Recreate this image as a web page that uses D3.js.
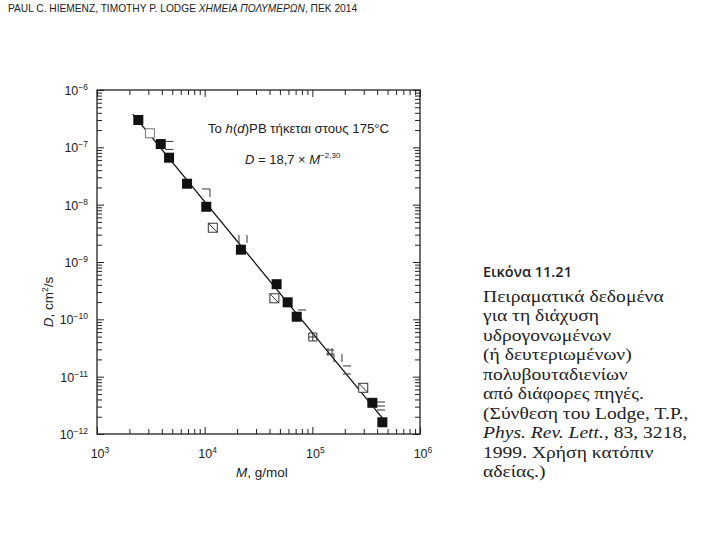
<!DOCTYPE html>
<html>
<head>
<meta charset="utf-8">
<script src="https://cdn.jsdelivr.net/npm/d3@7"></script>
<style>
  body { margin: 0; background: #fff; }
  text { fill: #222; }
</style>
</head>
<body>
<div id="viz"></div>
<script>
// data
var filledM = [2420, 3910, 4670, 6860, 10350, 21700, 46600, 59000, 71600, 361000, 447000];
var filledD = [3.0e-7, 1.14e-7, 6.6e-8, 2.32e-8, 9.2e-9, 1.64e-9, 4.1e-10, 1.98e-10, 1.11e-10, 3.5e-12, 1.6e-12];
var openM = [3100];
var openD = [1.76e-7];
var hatchM = [11900, 44400, 297000];
var hatchD = [3.96e-9, 2.33e-10, 6.4e-12];
var fragM = [4710, 10280, 22700, 80200, 101000, 146000, 173000, 210000, 435000];
var fragD = [1.08e-7, 1.6e-8, 2.52e-9, 1.24e-10, 4.92e-11, 2.69e-11, 2.11e-11, 1.31e-11, 3.08e-12];
var fragKind = ["eq", "corner", "par", "dash", "grid", "hash", "par", "eq", "tri"];
var lineM = [2150, 470000];
var lineD = [3.8e-7, 1.7e-12];
var xTicks = [1e3, 1e4, 1e5, 1e6];
var xExp = ["3", "4", "5", "6"];
var yTicks = [1e-6, 1e-7, 1e-8, 1e-9, 1e-10, 1e-11, 1e-12];
var yExp = ["\u22126", "\u22127", "\u22128", "\u22129", "\u221210", "\u221211", "\u221212"];
var caption = [
  "Πειραματικά δεδομένα",
  "για τη διάχυση",
  "υδρογονωμένων",
  "(ή δευτεριωμένων)",
  "πολυβουταδιενίων",
  "από διάφορες πηγές.",
  "(Σύνθεση του Lodge, T.P.,",
  "",
  "1999. Χρήση κατόπιν",
  "αδείας.)"
];

var W = 720, H = 540;
var plotL = 97, plotR = 420, plotT = 90, plotB = 434;

var svg = d3.select("#viz").append("svg")
  .attr("width", W).attr("height", H)
  .style("font-family", "'Liberation Sans', Arial, sans-serif");

var x = d3.scaleLog().domain([1e3, 1e6]).range([plotL, plotR]);
var y = d3.scaleLog().domain([1e-12, 1e-6]).range([plotB, plotT]);

var minorX = [], minorY = [];
[1e3, 1e4, 1e5].forEach(function(d){ for (var k = 2; k < 10; k++) minorX.push(d * k); });
[1e-12, 1e-11, 1e-10, 1e-9, 1e-8, 1e-7].forEach(function(d){ for (var k = 2; k < 10; k++) minorY.push(d * k); });

// header
var hd = svg.append("text").attr("x", 8).attr("y", 12).style("font-size", "10.2px");
hd.append("tspan").text("PAUL C. HIEMENZ, TIMOTHY P. LODGE ");
hd.append("tspan").style("font-style", "italic").text("ΧΗΜΕΙΑ ΠΟΛΥΜΕΡΩΝ");
hd.append("tspan").text(", ΠΕΚ 2014");

// ticks, all four sides, pointing inward
function drawTicks(axis, tx, ty, vals, len){
  var g = svg.append("g").attr("transform", "translate(" + tx + "," + ty + ")")
    .call(axis.tickValues(vals).tickSize(-len).tickFormat(""));
  g.select(".domain").remove();
  g.selectAll("line").attr("stroke", "#222").attr("stroke-width", 1);
}
drawTicks(d3.axisBottom(x), 0, plotB, minorX, 5);
drawTicks(d3.axisBottom(x), 0, plotB, xTicks, 7);
drawTicks(d3.axisTop(x), 0, plotT, minorX, 5);
drawTicks(d3.axisTop(x), 0, plotT, xTicks, 7);
drawTicks(d3.axisLeft(y), plotL, 0, minorY, 5);
drawTicks(d3.axisLeft(y), plotL, 0, yTicks, 7);
drawTicks(d3.axisRight(y), plotR, 0, minorY, 5);
drawTicks(d3.axisRight(y), plotR, 0, yTicks, 7);

svg.append("rect")
  .attr("x", plotL).attr("y", plotT)
  .attr("width", plotR - plotL).attr("height", plotB - plotT)
  .attr("fill", "none").attr("stroke", "#222").attr("stroke-width", 1.3);

// tick labels
xTicks.forEach(function(v, i){
  var t = svg.append("text").attr("x", x(v) + 3).attr("y", 458)
    .attr("text-anchor", "middle").style("font-size", "12.5px");
  t.append("tspan").text("10");
  t.append("tspan").attr("dy", -5).style("font-size", "8.5px").text(xExp[i]);
});
yTicks.forEach(function(v, i){
  var t = svg.append("text").attr("x", 88).attr("y", y(v) + 5)
    .attr("text-anchor", "end").style("font-size", "12.5px");
  t.append("tspan").text("10");
  t.append("tspan").attr("dy", -5).style("font-size", "8.5px").text(yExp[i]);
});

// axis titles
var xt = svg.append("text").attr("x", 262).attr("y", 477)
  .attr("text-anchor", "middle").style("font-size", "13.5px");
xt.append("tspan").style("font-style", "italic").text("M");
xt.append("tspan").text(", g/mol");

var yt = svg.append("text").attr("transform", "translate(53,302) rotate(-90)")
  .attr("text-anchor", "middle").style("font-size", "13.5px");
yt.append("tspan").style("font-style", "italic").text("D");
yt.append("tspan").text(", cm");
yt.append("tspan").attr("dy", -5).style("font-size", "8.5px").text("2");
yt.append("tspan").attr("dy", 5).text("/s");

// fit line
svg.append("path")
  .datum(lineM.map(function(m, i){ return [m, lineD[i]]; }))
  .attr("d", d3.line().x(function(d){ return x(d[0]); }).y(function(d){ return y(d[1]); }))
  .attr("stroke", "#111").attr("stroke-width", 1.3).attr("fill", "none");

// markers
svg.selectAll(".filled").data(filledM).enter().append("rect")
  .attr("x", function(d){ return x(d) - 5; })
  .attr("y", function(d, i){ return y(filledD[i]) - 5; })
  .attr("width", 10).attr("height", 10).attr("fill", "#111");

svg.selectAll(".open").data(openM).enter().append("rect")
  .attr("x", function(d){ return x(d) - 4.5; })
  .attr("y", function(d, i){ return y(openD[i]) - 4.5; })
  .attr("width", 9).attr("height", 9)
  .attr("fill", "#fff").attr("stroke", "#777").attr("stroke-width", 1);

var hatch = svg.selectAll(".hatch").data(hatchM).enter().append("g")
  .attr("transform", function(d, i){ return "translate(" + x(d) + "," + y(hatchD[i]) + ")"; });
hatch.append("rect").attr("x", -4.5).attr("y", -4.5).attr("width", 9).attr("height", 9)
  .attr("fill", "#fff").attr("stroke", "#333").attr("stroke-width", 1);
hatch.append("line").attr("x1", -4.5).attr("y1", -4.5).attr("x2", 4.5).attr("y2", 4.5)
  .attr("stroke", "#333").attr("stroke-width", 1);

// half-printed symbols
var s = 4;
var fragPath = {
  eq: "M-s,-s H s M-s,s H s",
  corner: "M-s,-s H s V s",
  par: "M-s,-s V s M s,-s V s",
  dash: "M-s,-s H s",
  grid: "M-s,-s H s V s H-s Z M0,-s V s M-s,0 H s",
  hash: "M-s,-2 H s M-s,2 H s M-2,-s V s M2,-s V s",
  tri: "M-s,-s H s M-s,0 H s M-s,s H s"
};
svg.selectAll(".frag").data(fragM).enter().append("path")
  .attr("transform", function(d, i){ return "translate(" + x(d) + "," + y(fragD[i]) + ")"; })
  .attr("d", function(d, i){ return fragPath[fragKind[i]].replace(/s/g, s); })
  .attr("fill", "none").attr("stroke", "#333").attr("stroke-width", 1);

// annotations
var a1 = svg.append("text").attr("x", 208).attr("y", 133).style("font-size", "13.2px");
a1.append("tspan").text("Το ");
a1.append("tspan").style("font-style", "italic").text("h");
a1.append("tspan").text("(");
a1.append("tspan").style("font-style", "italic").text("d");
a1.append("tspan").text(")PB τήκεται στους 175°C");

var a2 = svg.append("text").attr("x", 245).attr("y", 164).style("font-size", "13px");
a2.append("tspan").style("font-style", "italic").text("D");
a2.append("tspan").text(" = 18,7 × ");
a2.append("tspan").style("font-style", "italic").text("M");
a2.append("tspan").attr("dy", -6).style("font-size", "8px").text("\u22122,30");

// caption
svg.append("text").attr("x", 483).attr("y", 277)
  .style("font-family", "'Open Sans', 'Liberation Sans', sans-serif")
  .style("font-weight", "600").style("font-size", "14.5px").text("Εικόνα 11.21");

var cap = svg.append("g")
  .attr("transform", "translate(483,0) scale(1.12,1)")
  .style("font-family", "'Liberation Serif', 'Times New Roman', serif")
  .style("font-size", "17.5px");
caption.forEach(function(line, i){
  var t = cap.append("text").attr("x", 0).attr("y", 302 + i * 19.5);
  if (i === 7) {
    t.append("tspan").style("font-style", "italic").text("Phys. Rev. Lett.");
    t.append("tspan").text(", 83, 3218,");
  } else {
    t.text(line);
  }
});
</script>
</body>
</html>
